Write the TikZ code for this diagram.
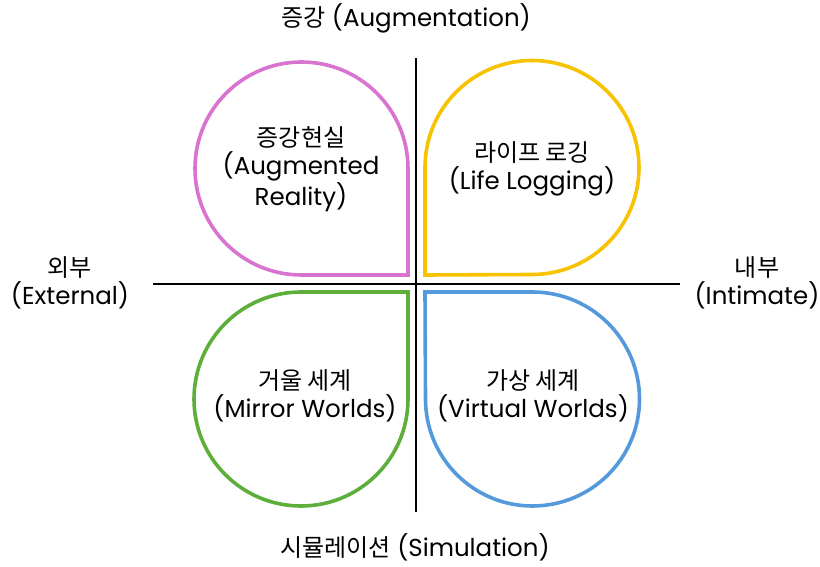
\documentclass[tikz,border=0pt]{standalone}
\usepackage{fontspec}
\setmainfont{Poppins}
\newfontfamily\kr{Noto Sans CJK KR}[Scale=0.98]
\definecolor{cpink}{HTML}{D873D0}
\definecolor{cyellow}{HTML}{F7C200}
\definecolor{cgreen}{HTML}{5DAE3B}
\definecolor{cblue}{HTML}{5599DD}
\tikzset{
  petal/.style={line width=3.6pt, line join=miter},
  axis/.style={line width=1.4pt, black},
  lbl/.style={align=center, font=\fontsize{24.5}{28.5}\selectfont, inner sep=0pt}
}
\begin{document}
\begin{tikzpicture}[x=1pt,y=1pt]
\useasboundingbox (0,0) rectangle (820,566);
% axes
\coordinate (vtop) at (416,508);
\coordinate (vbot) at (416,54);
\coordinate (hl) at (153,282);
\coordinate (hr) at (680,282);
\draw[axis] (vtop) -- (vbot);
\draw[axis] (hl) -- (hr);
% petals
\draw[petal, cpink] (408,291) -- (301.5,291) arc[start angle=270, end angle=0, radius=106.5] -- cycle;
\draw[petal, cyellow] (425,291) -- (425,398.5) arc[start angle=180, end angle=-90, radius=107] -- cycle;
\draw[petal, cgreen] (408,274) -- (408,167) arc[start angle=0, end angle=-270, radius=107] -- cycle;
\draw[petal, cblue] (425,274) -- (532.5,274) arc[start angle=90, end angle=-180, radius=107] -- cycle;
% labels
\node[lbl] (top) at (406,548) {{\kr 증강} (Augmentation)};
\node[lbl] (bot) at (415,19) {{\kr 시뮬레이션} (Simulation)};
\node[lbl] (ext) at (70,283) {{\kr 외부}\\(External)};
\node[lbl] (int) at (757,283) {{\kr 내부}\\(Intimate)};
\node[lbl] (ar) at (301,397) {{\kr 증강현실}\\(Augmented\\Reality)};
\node[lbl] (ll) at (532,397) {{\kr 라이프 로깅}\\(Life Logging)};
\node[lbl] (mw) at (305,170) {{\kr 거울 세계}\\(Mirror Worlds)};
\node[lbl] (vw) at (533,170) {{\kr 가상 세계}\\(Virtual Worlds)};
\end{tikzpicture}
\end{document}
